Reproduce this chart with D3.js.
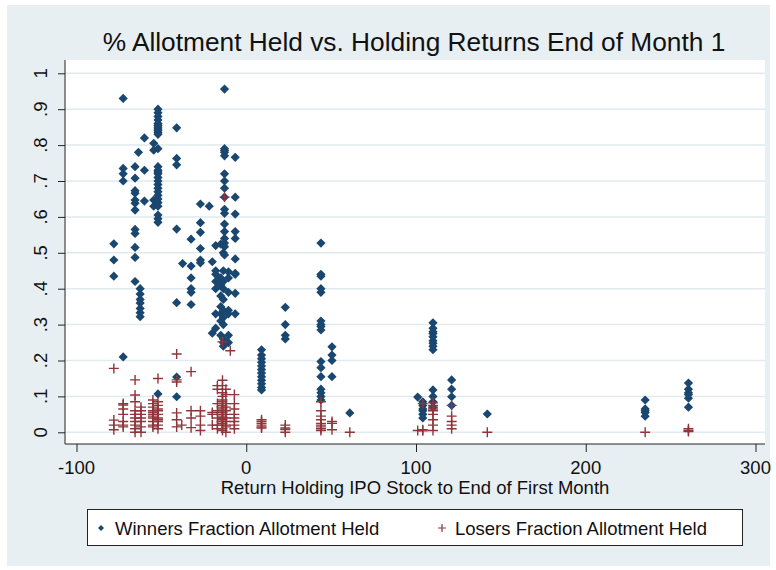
<!DOCTYPE html>
<html>
<head>
<meta charset="utf-8">
<script src="https://cdn.jsdelivr.net/npm/d3@7"></script>
<style>
  body { margin: 0; background: #fff; }
  text { font-family: "Liberation Sans", Arial, sans-serif; fill: #111; }
</style>
</head>
<body>
<div class="chart"></div>
<script>
// % allotment held vs holding return, winners (diamonds) and losers (plus)
var winnerReturns = [-78, -72.5, -65.5, -63.5, -62.5, -60, -54.5, -52, -41, -37.5, -32.5, -27, -21.8, -20, -18, -15, -13.5, -12.8, -10.5, -6.5, 9, 23, 44, 50.5, 61, 101, 104, 110, 121, 142, 235, 260.5];
var winnerHeld = [
  [.525, .48, .435],
  [.93, .735, .72, .70, .21],
  [.74, .708, .673, .666, .647, .638, .619, .565, .554, .515, .487, .42],
  [.78],
  [.40, .385, .37, .36, .345, .333, .322],
  [.82, .73, .644],
  [.805, .786, .647, .63],
  [.90, .89, .88, .87, .86, .855, .85, .845, .84, .835, .83, .79, .74, .73, .725, .72, .71, .70, .69, .68, .67, .66, .65, .64, .63, .605, .595, .585, .107],
  [.848, .763, .745, .566, .361, .154, .099],
  [.47],
  [.538, .463, .43, .40, .39, .356],
  [.636, .584, .557, .512, .48, .472],
  [.63],
  [.475, .276],
  [.52, .45, .44, .42, .40, .33, .29],
  [.524, .43, .41, .38, .35, .33, .31, .27],
  [.50, .45, .42, .40, .37, .34, .32, .30, .26, .25, .24],
  [.956, .79, .785, .78, .77, .72, .70, .68, .655, .621, .61, .58, .559, .54, .527, .517, .494],
  [.447, .43, .39, .34, .33, .27, .25],
  [.766, .655, .608, .559, .54, .483, .443, .44, .387, .33],
  [.23, .215, .205, .195, .185, .175, .165, .155, .145, .135, .125, .118],
  [.348, .30, .27, .26],
  [.527, .44, .435, .40, .39, .31, .30, .295, .285, .197, .18, .155, .12, .11, .10, .09],
  [.238, .215, .20, .155],
  [.054],
  [.098],
  [.085, .075, .065, .06, .05, .04],
  [.305, .29, .28, .275, .266, .255, .248, .24, .23, .118, .10, .085, .07],
  [.146, .12, .099, .075],
  [.051],
  [.09, .065, .06, .055, .045],
  [.137, .12, .11, .105, .095, .07]
];

var loserReturns = [-78, -72.5, -65.5, -62, -55, -52, -41, -38, -32.5, -27, -20, -17, -14, -12.8, -12, -9.4, -7, 9, 23, 44, 50.5, 61, 101, 104, 110, 121, 142, 235, 260.5];
var loserHeld = [
  [.178, .034, .02, .007],
  [.08, .076, .065, .05, .03, .02, .015],
  [.146, .104, .085, .06, .05, .04, .03, .02, .01, 0],
  [.07, .06, .05, .04, .03, .015, 0],
  [.09, .08, .07, .06, .055, .05, .045, .04, .03, .02, .015],
  [.15, .085, .075, .065, .06, .05, .04, .035, .03, .02, .01],
  [.218, .146, .14, .054, .035, .015],
  [.02],
  [.169, .06, .04, .013],
  [.06, .045, .02, .005],
  [.055, .05, .02],
  [.13, .12, .08, .06, .04, .02, .01],
  [.252, .145, .13, .11, .10, .09, .085, .075, .07, .065, .06, .055, .05, .045, .04, .035, .03, .025, .02, .01, .005],
  [.655],
  [.12, .105, .08, .07, .06, .05, .04, .03, .02, .015, 0],
  [.227],
  [.105, .08, .065, .05, .04, .03, .02, .01],
  [.035, .03, .025, .02, .015, .012],
  [.02, .012, .008, 0],
  [.085, .06, .045, .035, .025, .02, .015, .01, .005],
  [.03, .025, .007],
  [0],
  [.005],
  [.08, .007, .004],
  [.082, .075, .07, .065, .06, .05, .035, .02, .005],
  [.075, .045, .03, .02, .01],
  [0],
  [0],
  [.01, .005, .002]
];

var xTicks = [-100, 0, 100, 200, 300];
var yTicks = [0, .1, .2, .3, .4, .5, .6, .7, .8, .9, 1];
var yTickLabels = ["0", ".1", ".2", ".3", ".4", ".5", ".6", ".7", ".8", ".9", "1"];

var svgWidth = 776, svgHeight = 570;
var navy = "#1a476f", maroon = "#90353b";
var plot = { left: 65, right: 765, top: 60, bottom: 444 };

// flatten the columns into points
function flatten(returns, held) {
  var out = [];
  returns.forEach(function(r, i) {
    held[i].forEach(function(v) { out.push({ ret: r, held: v }); });
  });
  return out;
}
var winners = flatten(winnerReturns, winnerHeld);
var losers = flatten(loserReturns, loserHeld);

var svg = d3.select(".chart").append("svg")
  .attr("width", svgWidth)
  .attr("height", svgHeight);

// graph region + plot region
svg.append("rect").attr("x", 7).attr("y", 5).attr("width", 763).attr("height", 561).attr("fill", "#e8eff2");
svg.append("rect").attr("x", plot.left).attr("y", plot.top)
  .attr("width", plot.right - plot.left).attr("height", plot.bottom - plot.top).attr("fill", "#fff");

var x = d3.scaleLinear().domain([-100, 300]).range([76.5, 755.5]);
var y = d3.scaleLinear().domain([0, 1]).range([432.3, 73.3]);

function addText(px, py, str, size, anchor) {
  return svg.append("text")
    .attr("x", px).attr("y", py)
    .attr("text-anchor", anchor || "middle")
    .attr("font-size", size)
    .text(str);
}

// gridlines
svg.append("g").selectAll("line")
  .data(yTicks)
  .enter().append("line")
  .attr("x1", plot.left).attr("x2", plot.right)
  .attr("y1", function(d) { return y(d); })
  .attr("y2", function(d) { return y(d); })
  .attr("stroke", "#e1eaee")
  .attr("stroke-width", 1.5);

// y axis
var yAxis = d3.axisLeft(y).tickValues(yTicks).tickSize(7).tickFormat("");
var gy = svg.append("g").attr("transform", "translate(" + plot.left + ",0)").call(yAxis);
gy.select(".domain").attr("d", "M0," + plot.top + "V" + plot.bottom).attr("stroke", "#222");
gy.selectAll(".tick line").attr("stroke", "#222");
svg.append("g").selectAll("text")
  .data(yTicks)
  .enter().append("text")
  .attr("transform", function(d) { return "translate(47," + y(d) + ") rotate(-90)"; })
  .attr("text-anchor", "middle")
  .attr("font-size", 18.5)
  .text(function(d, i) { return yTickLabels[i]; });

// x axis
var xAxis = d3.axisBottom(x).tickValues(xTicks).tickSize(8).tickFormat("");
var gx = svg.append("g").attr("transform", "translate(0," + plot.bottom + ")").call(xAxis);
gx.select(".domain").attr("d", "M" + plot.left + ",0H" + plot.right).attr("stroke", "#222");
gx.selectAll(".tick line").attr("stroke", "#222");
xTicks.forEach(function(t) { addText(x(t), 474, String(t), 18.5); });

// axis title + chart title
addText((plot.left + plot.right) / 2, 494, "Return Holding IPO Stock to End of First Month", 18.5);
addText(414, 51, "% Allotment Held vs. Holding Returns End of Month 1", 26.3).attr("fill", "#1e1e2a");

// markers
var diamond = "M0,-4.6L4.6,0L0,4.6L-4.6,0Z";
var plus = "M-5,0H5M0,-5V5";

svg.append("g").selectAll("path")
  .data(winners)
  .enter().append("path")
  .attr("d", diamond)
  .attr("transform", function(d) { return "translate(" + x(d.ret) + "," + y(d.held) + ")"; })
  .attr("fill", navy);

svg.append("g").selectAll("path")
  .data(losers)
  .enter().append("path")
  .attr("d", plus)
  .attr("transform", function(d) { return "translate(" + x(d.ret) + "," + y(d.held) + ")"; })
  .attr("fill", "none")
  .attr("stroke", maroon)
  .attr("stroke-width", 1.4);

// legend
svg.append("rect").attr("x", 87.5).attr("y", 509.5).attr("width", 655).attr("height", 36)
  .attr("fill", "#fff").attr("stroke", "#222");
svg.append("path").attr("d", "M0,-3L3,0L0,3L-3,0Z").attr("transform", "translate(101,528)").attr("fill", navy);
addText(115, 534.5, "Winners Fraction Allotment Held", 18.5, "start");
svg.append("path").attr("d", "M-4,0H4M0,-4V4").attr("transform", "translate(442,528)")
  .attr("stroke", maroon).attr("stroke-width", 1.2);
addText(455, 534.5, "Losers Fraction Allotment Held", 18.5, "start");
</script>
</body>
</html>
